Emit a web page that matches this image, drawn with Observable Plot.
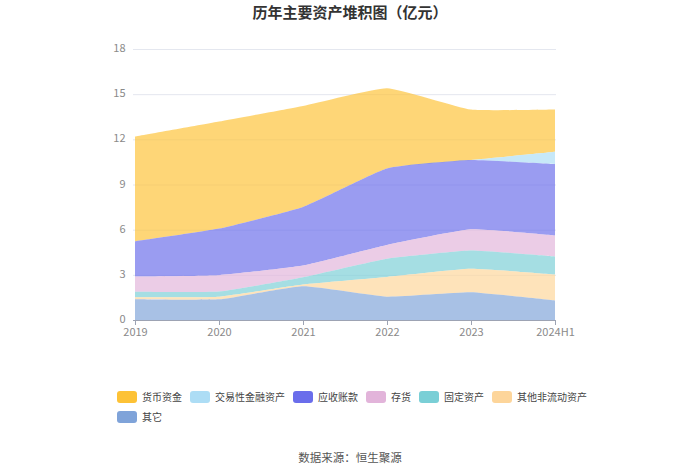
<!DOCTYPE html>
<html><head><meta charset="utf-8">
<script src="https://cdn.jsdelivr.net/npm/d3@7"></script>
<script src="https://cdn.jsdelivr.net/npm/@observablehq/plot@0.6"></script>
<style>
body{margin:0;background:#fff;font-family:"Noto Sans CJK SC","Noto Sans",sans-serif;}
#wrap{position:relative;width:700px;height:474px;overflow:hidden;}
#title{position:absolute;top:0;left:0;width:700px;text-align:center;font-size:15px;font-weight:bold;color:#333;line-height:24px;}
#chart{position:absolute;top:26px;left:0;}
#legend{position:absolute;top:390px;left:117px;width:480px;display:flex;flex-wrap:wrap;column-gap:8px;row-gap:7px;font-size:10px;color:#444;}
.item{display:flex;align-items:center;height:13px;line-height:13px;}
.sw{width:20px;height:12px;border-radius:3px;margin-right:5px;}
#caption{position:absolute;top:449px;left:0;width:700px;text-align:center;font-size:11.5px;color:#555;}
</style></head>
<body>
<div id="wrap">
  <div id="title">历年主要资产堆积图（亿元）</div>
  <div id="chart"></div>
  <div id="legend"></div>
  <div id="caption">数据来源：恒生聚源</div>
</div>
<script>
const years = ["2019","2020","2021","2022","2023","2024H1"];
const seriesNames = ["货币资金","交易性金融资产","应收账款","存货","固定资产","其他非流动资产","其它"];
const cash        = [6.96, 7.11, 6.71, 5.33, 3.36, 2.81];
const tradingFin  = [0, 0, 0, 0, 0, 0.82];
const receivables = [2.33, 3.09, 3.89, 5.09, 4.60, 4.73];
const inventory   = [1.02, 1.09, 0.78, 0.91, 1.40, 1.40];
const fixedAssets = [0.36, 0.34, 0.48, 1.21, 1.22, 1.20];
const otherNonCur = [0.13, 0.18, 0.12, 1.31, 1.56, 1.73];
const others      = [1.38, 1.37, 2.24, 1.55, 1.84, 1.29];
const yTicks = [0, 3, 6, 9, 12, 15, 18];
const colors = ["#FDC236","#ADDDF5","#6A6DEB","#E2B4DA","#7ACFD6","#FDD59A","#7FA3D9"];

const seriesValues = [cash, tradingFin, receivables, inventory, fixedAssets, otherNonCur, others];
const data = [];
seriesNames.forEach((s, i) => years.forEach((y, j) => data.push({year: y, series: s, value: seriesValues[i][j]})));

const axisColor = "#9DA3B3";
const chart = Plot.plot({
  width: 700, height: 320,
  marginLeft: 133, marginRight: 144, marginTop: 23, marginBottom: 26,
  style: {fontFamily: '"Noto Sans CJK SC","Noto Sans",sans-serif', fontSize: "11px", color: "#8a8a8a", background: "transparent"},
  x: {type: "point", domain: years, padding: 0, label: null},
  y: {domain: [0, 18], label: null},
  color: {domain: seriesNames, range: colors},
  marks: [
    Plot.gridY(yTicks, {stroke: "#E4E7EF", strokeOpacity: 1}),
    Plot.areaY(data, {x: "year", y: "value", fill: "series", fillOpacity: 0.68,
      order: seriesNames.slice().reverse(), curve: "cardinal", tension: 0.6}),
    Plot.ruleY([0], {stroke: axisColor}),
    Plot.axisX({tickSize: 5, tickPadding: 3, stroke: axisColor, fill: "#8a8a8a"}),
    Plot.axisY(yTicks, {tickSize: 0, tickPadding: 8, dy: -1, fill: "#8a8a8a"})
  ]
});
document.getElementById("chart").appendChild(chart);

const legend = document.getElementById("legend");
seriesNames.forEach((s, i) => {
  const it = document.createElement("div"); it.className = "item";
  const sw = document.createElement("div"); sw.className = "sw"; sw.style.background = colors[i];
  const t = document.createElement("span"); t.textContent = s;
  it.appendChild(sw); it.appendChild(t); legend.appendChild(it);
});
</script>
</body></html>
